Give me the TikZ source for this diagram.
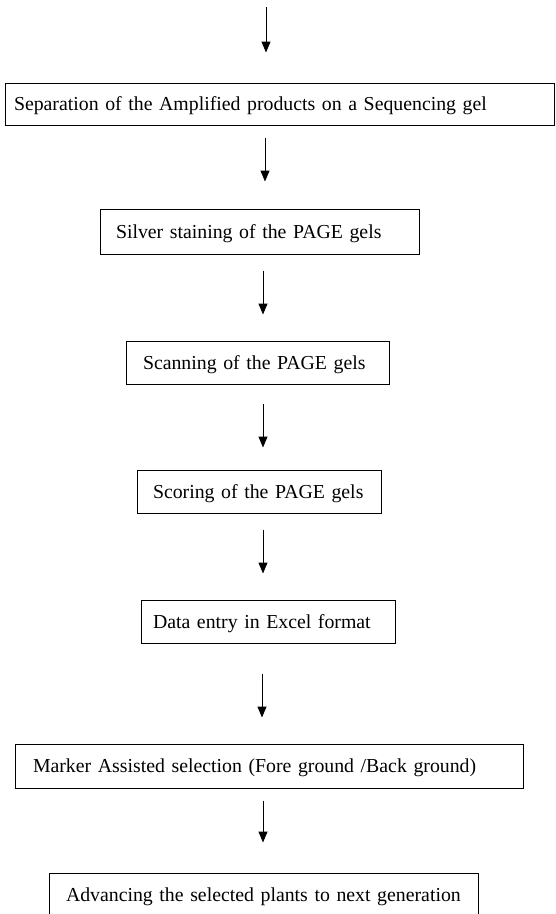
\documentclass[tikz,border=0pt]{standalone}
\usepackage{fontspec}
\setmainfont{Liberation Serif}
\usetikzlibrary{arrows.meta}
\begin{document}
\begin{tikzpicture}[
  stepbox/.style={draw=black, line width=1pt, inner xsep=#1, inner ysep=0pt,
    align=left, text height=13pt, text depth=0pt,
    font=\fontsize{19.8}{22}\selectfont},
  arr/.style={draw=black, line width=1pt, -{Triangle[width=9pt,length=11pt]}}
]
\useasboundingbox (0,0) rectangle (555pt,-914pt);
\clip (0,0) rectangle (555pt,-914pt);
\fill[white] (0,0) rectangle (555pt,-914pt);

\node[stepbox=9pt, minimum width=549pt, minimum height=42pt, text width=531pt] (b1) at (279.5pt,-104pt) {Separation of the Amplified products on a Sequencing gel};
\node[stepbox=16pt, minimum width=319pt, minimum height=45pt, text width=287pt] (b2) at (259.5pt,-231.5pt) {Silver staining of the PAGE gels};
\node[stepbox=17pt, minimum width=263pt, minimum height=43pt, text width=229pt] (b3) at (257.5pt,-362.5pt) {Scanning of the PAGE gels};
\node[stepbox=16pt, minimum width=244pt, minimum height=43pt, text width=212pt] (b4) at (259pt,-491.5pt) {Scoring of the PAGE gels};
\node[stepbox=12pt, minimum width=254pt, minimum height=43pt, text width=230pt] (b5) at (268pt,-621.5pt) {Data entry in Excel format};
\node[stepbox=18pt, minimum width=508pt, minimum height=44pt, text width=472pt] (b6) at (269pt,-766pt) {Marker Assisted selection (Fore ground /Back ground)};
\node[stepbox=17pt, minimum width=429pt, minimum height=44pt, text width=395pt] (b7) at (263.5pt,-895pt) {Advancing the selected plants to next generation};

\coordinate (top) at (266pt,-7pt);
\coordinate (x1) at (265pt,0);
\coordinate (x2) at (263pt,0);
\coordinate (x3) at (262pt,0);

\draw[arr, shorten >=30pt] (top) -- (b1.north -| top);
\draw[arr, shorten <=12pt, shorten >=27pt] (b1.south -| x1) -- (b2.north -| x1);
\draw[arr, shorten <=16pt, shorten >=26pt] (b2.south -| x2) -- (b3.north -| x2);
\draw[arr, shorten <=19pt, shorten >=22pt] (b3.south -| x2) -- (b4.north -| x2);
\draw[arr, shorten <=16pt, shorten >=26pt] (b4.south -| x2) -- (b5.north -| x2);
\draw[arr, shorten <=30pt, shorten >=26pt] (b5.south -| x3) -- (b6.north -| x3);
\draw[arr, shorten <=12pt, shorten >=30pt] (b6.south -| x2) -- (b7.north -| x2);
\end{tikzpicture}
\end{document}
